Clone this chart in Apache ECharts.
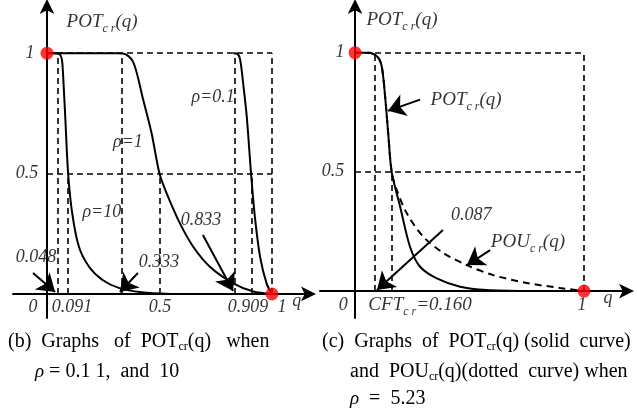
<!DOCTYPE html>
<html><head><meta charset="utf-8">
<script src="https://cdn.jsdelivr.net/npm/echarts@6/dist/echarts.min.js"></script>
<style>html,body{margin:0;padding:0;background:#fff}#c{width:637px;height:410px}</style>
</head><body><div id="c"></div>
<script>
const FONT = '"Liberation Serif","Times New Roman",serif';

// ---------- Panel (b): POT_cr(q) for rho = 0.1, 1, 10 ----------
const bRho10Q = [0, 0.03, 0.056, 0.066, 0.071, 0.082, 0.094, 0.112, 0.142, 0.187, 0.247, 0.322, 0.42, 0.55];
const bRho10V = [1, 1, 0.996, 0.975, 0.92, 0.72, 0.5, 0.336, 0.196, 0.113, 0.058, 0.024, 0.007, 0];
const bRho1Q = [0, 0.31, 0.35, 0.386, 0.428, 0.465, 0.5, 0.532, 0.591, 0.65, 0.724, 0.828, 0.917, 1.0];
const bRho1V = [1, 1, 0.995, 0.957, 0.805, 0.667, 0.5, 0.418, 0.293, 0.196, 0.113, 0.044, 0.01, 0];
const bRho01Q = [0.828, 0.845, 0.858, 0.872, 0.888, 0.907, 0.924, 0.947, 0.976, 1.0];
const bRho01V = [1, 0.998, 0.975, 0.874, 0.736, 0.5, 0.32, 0.155, 0.044, 0];
const bGuideQ = [0.048, 0.091, 0.333, 0.5, 0.833, 0.909, 1];
const bGuideTop = [1, 0.5, 1, 0.5, 1, 0.5, 1];
const bGuideLevels = [0.5, 1];
const bXTickText = ['0', '0.091', '0.5', '0.909', '1', 'q'];
const bYTickText = ['1', '0.5'];
const bMarkText = ['0.048', '0.333', '0.833'];
const bRhoText = ['ρ=10', 'ρ=1', 'ρ=0.1'];

// ---------- Panel (c): POT_cr(q) and POU_cr(q) for rho = 5.23 ----------
const cPotQ = [0, 0.06, 0.1, 0.117, 0.131, 0.145, 0.16, 0.197, 0.24, 0.284, 0.357, 0.459, 0.575, 0.75];
const cPotV = [1, 1, 0.98, 0.94, 0.82, 0.66, 0.5, 0.354, 0.186, 0.102, 0.053, 0.018, 0.004, 0];
const cPouQ = [0, 0.06, 0.1, 0.117, 0.131, 0.145, 0.16, 0.18, 0.226, 0.298, 0.385, 0.488, 0.603, 0.75, 0.895, 1];
const cPouV = [1, 1, 0.98, 0.94, 0.82, 0.66, 0.5, 0.43, 0.326, 0.228, 0.16, 0.109, 0.067, 0.034, 0.013, 0];
const cGuideQ = [0.087, 0.160, 1];
const cGuideTop = [1, 0.5, 1];
const cGuideLevels = [0.5, 1];
const cXTickText = ['0', 'CFT|cr|=0.160', '1', 'q'];
const cYTickText = ['1', '0.5'];
const cMarkText = ['0.087'];

const pairs = (q, v) => q.map((x, i) => [x, v[i]]);

const rich = {
  i: { fontFamily: FONT, fontStyle: 'italic', fontSize: 18, lineHeight: 26, color: '#000' },
  t: { fontFamily: FONT, fontStyle: 'italic', fontSize: 19, lineHeight: 26, color: '#000' },
  s: { fontFamily: FONT, fontStyle: 'italic', fontSize: 12, lineHeight: 12, verticalAlign: 'bottom', color: '#000' }
};
const potLabel = (name) => '{t|' + name + '}{s|c r}{t|(q)}';
const cftLabel = (s) => { const p = s.split('|'); return '{t|' + p[0] + '}{s|c r}{t|' + p[2] + '}'; };

function textSeries(gi, items) {
  return {
    type: 'scatter', xAxisIndex: gi, yAxisIndex: gi, symbolSize: 1, silent: true, z: 20,
    itemStyle: { color: 'rgba(0,0,0,0)' },
    label: { show: true, position: 'inside', color: '#000', textBorderWidth: 0,
      formatter: (p) => p.data.txt, rich: rich },
    data: items.map(it => ({ value: [it[0], it[1]], txt: it[2] }))
  };
}
function guideSeries(gi, qs, tops, levels) {
  const d = [];
  qs.forEach((q, i) => d.push({ coords: [[q, 0], [q, tops[i]]] }));
  levels.forEach(v => d.push({ coords: [[0, v], [1, v]] }));
  return { type: 'lines', coordinateSystem: 'cartesian2d', xAxisIndex: gi, yAxisIndex: gi, silent: true, z: 2,
    lineStyle: { color: '#000', width: 1.6, type: [6, 4], opacity: 1 }, data: d };
}
function arrowSeries(gi, list) {
  return { type: 'lines', coordinateSystem: 'cartesian2d', xAxisIndex: gi, yAxisIndex: gi, silent: true, z: 6,
    symbol: ['none', 'arrow'], symbolSize: 17,
    lineStyle: { color: '#000', width: 2, opacity: 1 }, itemStyle: { color: '#000' },
    data: list.map(a => ({ coords: [[a[0], a[1]], [a[2], a[3]]] })) };
}
function curve(gi, q, v, dashed) {
  return { type: 'line', xAxisIndex: gi, yAxisIndex: gi, showSymbol: false, symbol: 'none', smooth: 0.3,
    silent: true, z: 5,
    lineStyle: { color: '#000', width: 2, type: dashed ? [7, 5] : 'solid' }, data: pairs(q, v) };
}
function dots(gi) {
  return { type: 'scatter', xAxisIndex: gi, yAxisIndex: gi, symbolSize: 13, silent: true, z: 30,
    itemStyle: { color: '#ff0000' }, data: [[0, 1], [1, 0]] };
}
const axisLine = { onZero: true, symbol: ['none', 'arrow'], symbolSize: [11, 15], symbolOffset: [0, 6],
  lineStyle: { color: '#000', width: 2 } };
function xAx(gi, min, max) {
  return { type: 'value', gridIndex: gi, min, max, axisLine, axisTick: { show: false }, axisLabel: { show: false }, splitLine: { show: false } };
}
function yAx(gi, min, max) {
  return { type: 'value', gridIndex: gi, min, max, axisLine, axisTick: { show: false }, axisLabel: { show: false }, splitLine: { show: false } };
}

const bText = [
  [-0.062, -0.056, '{i|' + bXTickText[0] + '}'],
  [0.111, -0.056, '{i|' + bXTickText[1] + '}'],
  [0.502, -0.056, '{i|' + bXTickText[2] + '}'],
  [0.893, -0.056, '{i|' + bXTickText[3] + '}'],
  [1.044, -0.056, '{i|' + bXTickText[4] + '}'],
  [1.11, -0.03, '{i|' + bXTickText[5] + '}'],
  [-0.076, 1, '{i|' + bYTickText[0] + '}'],
  [-0.089, 0.5, '{i|' + bYTickText[1] + '}'],
  [0.245, 1.13, potLabel('POT')],
  [-0.049, 0.154, '{i|' + bMarkText[0] + '}'],
  [0.498, 0.133, '{i|' + bMarkText[1] + '}'],
  [0.684, 0.307, '{i|' + bMarkText[2] + '}'],
  [0.244, 0.34, '{i|' + bRhoText[0] + '}'],
  [0.36, 0.63, '{i|' + bRhoText[1] + '}'],
  [0.738, 0.817, '{i|' + bRhoText[2] + '}']
];
const cText = [
  [-0.052, -0.059, '{i|' + cXTickText[0] + '}'],
  [0.284, -0.059, cftLabel(cXTickText[1])],
  [0.991, -0.059, '{i|' + cXTickText[2] + '}'],
  [1.105, -0.03, '{i|' + cXTickText[3] + '}'],
  [-0.066, 1, '{i|' + cYTickText[0] + '}'],
  [-0.096, 0.504, '{i|' + cYTickText[1] + '}'],
  [0.205, 1.139, potLabel('POT')],
  [0.485, 0.803, potLabel('POT')],
  [0.507, 0.319, '{i|' + cMarkText[0] + '}'],
  [0.755, 0.206, potLabel('POU')]
];

const capRich = {
  s: { fontFamily: FONT, fontSize: 12, lineHeight: 12, verticalAlign: 'bottom', fill: '#000' },
  r: { fontFamily: FONT, fontStyle: 'italic', fontSize: 19, lineHeight: 22, fill: '#000' }
};
function cap(x, y, text) {
  return { type: 'text', left: x, top: y, silent: true,
    style: { text, fontFamily: FONT, fontSize: 20, lineHeight: 22, fill: '#000', rich: capRich } };
}

const option = {
  animation: false,
  backgroundColor: '#fff',
  grid: [
    { left: 13, top: 5, width: 297, height: 313 },
    { left: 320, top: 5, width: 308, height: 313 }
  ],
  xAxis: [xAx(0, -0.151, 1.169), xAx(1, -0.153, 1.192)],
  yAxis: [yAx(0, -0.1, 1.2), yAx(1, -0.113, 1.2)],
  series: [
    guideSeries(0, bGuideQ, bGuideTop, bGuideLevels),
    curve(0, bRho10Q, bRho10V), curve(0, bRho1Q, bRho1V), curve(0, bRho01Q, bRho01V),
    arrowSeries(0, [[-0.062, 0.087, 0.036, 0.008], [0.404, 0.087, 0.324, 0.008], [0.693, 0.245, 0.827, 0.012]]),
    dots(0), textSeries(0, bText),
    guideSeries(1, cGuideQ, cGuideTop, cGuideLevels),
    curve(1, cPotQ, cPotV), curve(1, cPouQ, cPouV, true),
    arrowSeries(1, [[0.284, 0.803, 0.144, 0.756], [0.384, 0.256, 0.096, 0.004], [0.59, 0.172, 0.489, 0.109]]),
    dots(1), textSeries(1, cText)
  ],
  graphic: [
    cap(8, 331, '(b)  Graphs   of  POT{s|cr}(q)   when'),
    cap(35, 361, '{r|ρ} = 0.1 1,  and  10'),
    cap(322, 331, '(c)  Graphs  of  POT{s|cr}(q) (solid  curve)'),
    cap(350, 361, 'and  POU{s|cr}(q)(dotted  curve) when'),
    cap(350, 388, '{r|ρ}  =  5.23')
  ]
};
echarts.init(document.getElementById('c'), null, { renderer: 'canvas' }).setOption(option);
</script></body></html>
